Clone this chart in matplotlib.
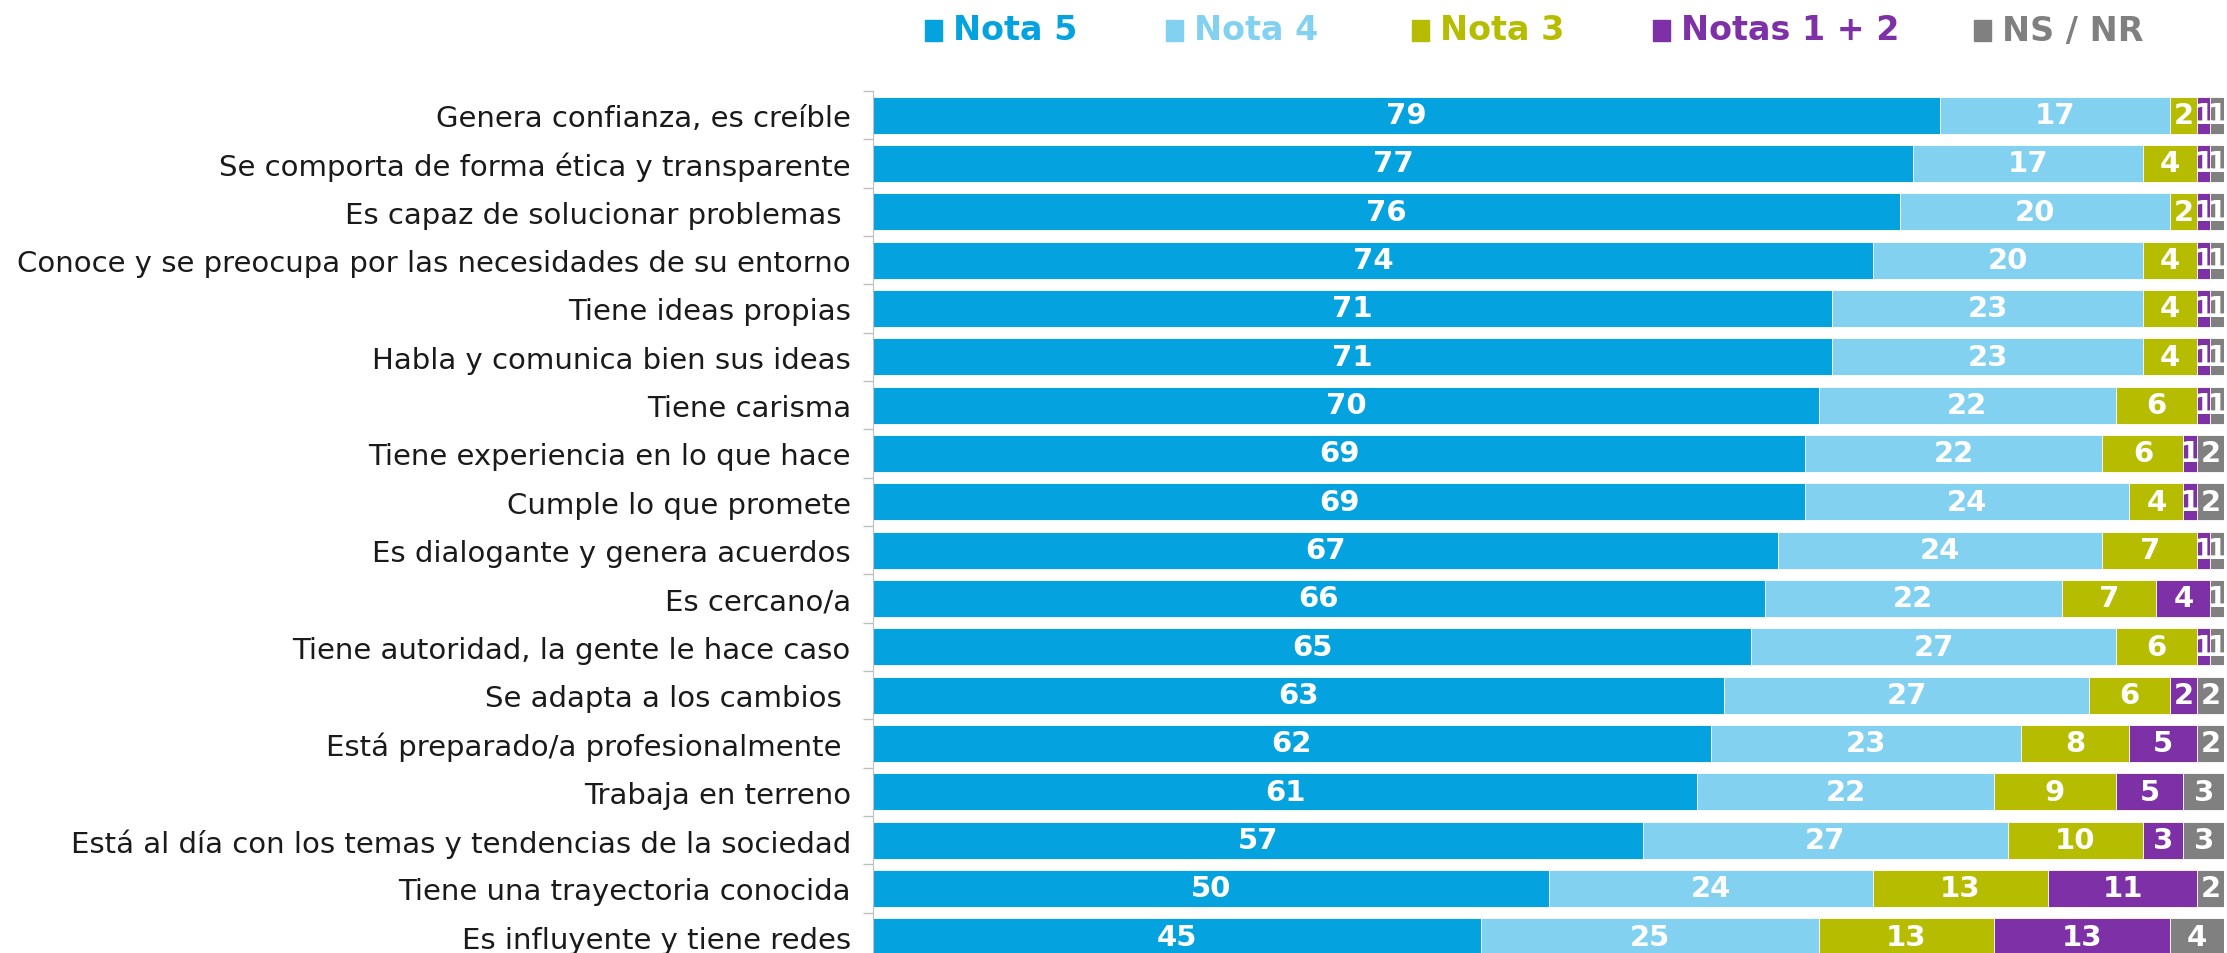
import matplotlib.pyplot as plt
from matplotlib.patches import Rectangle

categorias = [
    "Genera confianza, es creíble",
    "Se comporta de forma ética y transparente",
    "Es capaz de solucionar problemas ",
    "Conoce y se preocupa por las necesidades de su entorno",
    "Tiene ideas propias",
    "Habla y comunica bien sus ideas",
    "Tiene carisma",
    "Tiene experiencia en lo que hace",
    "Cumple lo que promete",
    "Es dialogante y genera acuerdos",
    "Es cercano/a",
    "Tiene autoridad, la gente le hace caso",
    "Se adapta a los cambios ",
    "Está preparado/a profesionalmente ",
    "Trabaja en terreno",
    "Está al día con los temas y tendencias de la sociedad",
    "Tiene una trayectoria conocida",
    "Es influyente y tiene redes",
]

nota5 = [79, 77, 76, 74, 71, 71, 70, 69, 69, 67, 66, 65, 63, 62, 61, 57, 50, 45]
nota4 = [17, 17, 20, 20, 23, 23, 22, 22, 24, 24, 22, 27, 27, 23, 22, 27, 24, 25]
nota3 = [2, 4, 2, 4, 4, 4, 6, 6, 4, 7, 7, 6, 6, 8, 9, 10, 13, 13]
notas12 = [1, 1, 1, 1, 1, 1, 1, 1, 1, 1, 4, 1, 2, 5, 5, 3, 11, 13]
nsnr = [1, 1, 1, 1, 1, 1, 1, 2, 2, 1, 1, 1, 2, 2, 3, 3, 2, 4]

series = ["Nota 5", "Nota 4", "Nota 3", "Notas 1 + 2", "NS / NR"]
valores = [nota5, nota4, nota3, notas12, nsnr]
colores = ["#04a3e0", "#82d1f0", "#b6bd00", "#7e30a6", "#808080"]

W, H = 2227, 954
fig = plt.figure(figsize=(W / 100, H / 100), dpi=100)
ax = fig.add_axes([873 / W, (954 - 962) / H, 1351 / W, 870 / H])

y = list(range(len(categorias)))
izq = [0] * len(categorias)
for nombre, vals, col in zip(series, valores, colores):
    ax.barh(y, vals, left=izq, height=0.76, color=col,
            edgecolor="white", linewidth=0.6)
    for i, v in enumerate(vals):
        ax.text(izq[i] + v / 2, i, str(v), ha="center", va="center",
                color="white", fontsize=21, fontweight="bold")
    izq = [a + b for a, b in zip(izq, vals)]

ax.set_xlim(0, 100)
ax.set_ylim(len(categorias) - 0.5, -0.5)
ax.set_yticks(y)
ax.set_yticklabels(categorias, fontsize=21, color="#1a1a1a")
ax.set_yticks([i - 0.5 for i in range(len(categorias) + 1)], minor=True)
ax.tick_params(axis="y", which="major", length=0, pad=16)
ax.tick_params(axis="y", which="minor", length=7, color="#bfbfbf", width=1)
ax.set_xticks([])
for s in ["top", "right", "bottom"]:
    ax.spines[s].set_visible(False)
ax.spines["left"].set_color("#bfbfbf")

# leyenda superior
leg_x = [925, 1166, 1412, 1653, 1974]
for nombre, col, x in zip(series, colores, leg_x):
    fig.patches.append(Rectangle((x / W, 1 - 42 / H), 17 / W, 21 / H,
                                 transform=fig.transFigure, color=col))
    fig.text((x + 28) / W, 1 - 31 / H, nombre, ha="left", va="center",
             color=col, fontsize=24, fontweight="bold")

fig.savefig("out.png", dpi=100)
